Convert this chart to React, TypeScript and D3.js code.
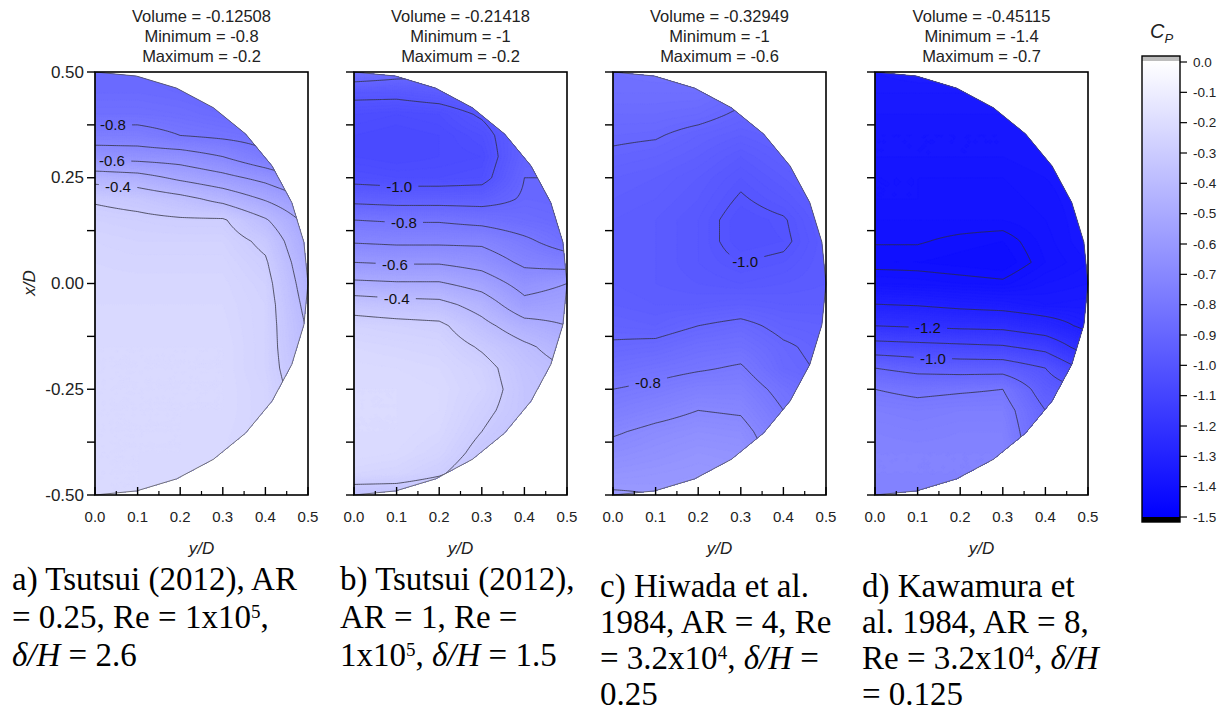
import React, { useMemo } from "react";
import * as d3 from "d3";

// Tabulation grid for the pressure coefficient: rows run along x/D (top to bottom), columns along y/D.
const ROW_XD = [0.5, 0.45, 0.4, 0.35, 0.3, 0.25, 0.2, 0.15, 0.1, 0.05, 0, -0.05, -0.1, -0.15, -0.2, -0.25, -0.3, -0.35, -0.4, -0.45, -0.5];
const COL_YD = [0, 0.1, 0.2, 0.3, 0.4, 0.5];

// a) Tsutsui (2012), AR = 0.25
const cpTsutsuiAR025 = [
  [-0.88, -0.88, -0.9, -0.9, -0.9, -0.9],
  [-0.87, -0.87, -0.88, -0.9, -0.9, -0.9],
  [-0.84, -0.84, -0.85, -0.87, -0.88, -0.88],
  [-0.76, -0.76, -0.8, -0.82, -0.84, -0.86],
  [-0.63, -0.64, -0.65, -0.7, -0.78, -0.85],
  [-0.44, -0.46, -0.52, -0.57, -0.63, -0.72],
  [-0.31, -0.33, -0.37, -0.43, -0.51, -0.6],
  [-0.27, -0.28, -0.29, -0.29, -0.39, -0.53],
  [-0.25, -0.26, -0.26, -0.26, -0.32, -0.5],
  [-0.24, -0.245, -0.245, -0.245, -0.29, -0.47],
  [-0.235, -0.235, -0.235, -0.235, -0.27, -0.45],
  [-0.23, -0.23, -0.23, -0.23, -0.26, -0.43],
  [-0.225, -0.225, -0.225, -0.225, -0.26, -0.41],
  [-0.22, -0.22, -0.22, -0.22, -0.26, -0.4],
  [-0.22, -0.22, -0.22, -0.22, -0.26, -0.38],
  [-0.22, -0.22, -0.22, -0.22, -0.25, -0.36],
  [-0.22, -0.22, -0.22, -0.22, -0.25, -0.35],
  [-0.22, -0.22, -0.22, -0.225, -0.25, -0.34],
  [-0.22, -0.22, -0.22, -0.23, -0.25, -0.33],
  [-0.22, -0.22, -0.225, -0.23, -0.25, -0.32],
  [-0.22, -0.22, -0.23, -0.23, -0.25, -0.32],
];

// b) Tsutsui (2012), AR = 1
const cpTsutsuiAR1 = [
  [-0.83, -0.86, -0.88, -0.92, -0.92, -0.92],
  [-0.98, -0.98, -0.96, -0.93, -0.92, -0.92],
  [-1.04, -1.05, -1.04, -0.99, -0.92, -0.92],
  [-1.06, -1.07, -1.06, -1.03, -0.93, -0.92],
  [-1.06, -1.07, -1.06, -1.05, -0.92, -0.92],
  [-1.03, -1.04, -1.04, -1.03, -0.9, -0.9],
  [-0.93, -0.94, -0.94, -0.94, -0.89, -0.9],
  [-0.8, -0.81, -0.81, -0.83, -0.86, -0.88],
  [-0.71, -0.72, -0.72, -0.72, -0.78, -0.85],
  [-0.6, -0.61, -0.61, -0.64, -0.72, -0.75],
  [-0.48, -0.49, -0.49, -0.54, -0.64, -0.6],
  [-0.34, -0.36, -0.37, -0.44, -0.57, -0.55],
  [-0.26, -0.27, -0.28, -0.37, -0.46, -0.5],
  [-0.23, -0.24, -0.25, -0.31, -0.38, -0.45],
  [-0.215, -0.22, -0.23, -0.27, -0.35, -0.4],
  [-0.21, -0.21, -0.22, -0.26, -0.34, -0.38],
  [-0.21, -0.21, -0.22, -0.28, -0.34, -0.38],
  [-0.21, -0.21, -0.23, -0.3, -0.36, -0.4],
  [-0.21, -0.22, -0.25, -0.33, -0.38, -0.4],
  [-0.24, -0.25, -0.29, -0.36, -0.4, -0.4],
  [-0.36, -0.36, -0.38, -0.4, -0.4, -0.4],
];

// c) Hiwada et al. 1984, AR = 4
const cpHiwadaAR4 = [
  [-0.84, -0.83, -0.83, -0.85, -0.85, -0.85],
  [-0.85, -0.85, -0.85, -0.88, -0.88, -0.87],
  [-0.87, -0.87, -0.88, -0.91, -0.9, -0.89],
  [-0.89, -0.895, -0.92, -0.94, -0.92, -0.91],
  [-0.91, -0.92, -0.94, -0.97, -0.94, -0.92],
  [-0.93, -0.94, -0.96, -0.99, -0.96, -0.93],
  [-0.94, -0.95, -0.97, -1.005, -0.98, -0.94],
  [-0.95, -0.96, -0.98, -1.02, -1.005, -0.95],
  [-0.95, -0.96, -0.98, -1.02, -1.01, -0.96],
  [-0.95, -0.96, -0.98, -1.0, -0.99, -0.96],
  [-0.95, -0.96, -0.97, -0.98, -0.97, -0.96],
  [-0.94, -0.95, -0.95, -0.94, -0.95, -0.95],
  [-0.92, -0.93, -0.9, -0.88, -0.92, -0.93],
  [-0.89, -0.88, -0.85, -0.84, -0.89, -0.92],
  [-0.85, -0.83, -0.81, -0.79, -0.88, -0.91],
  [-0.8, -0.78, -0.75, -0.75, -0.83, -0.89],
  [-0.76, -0.73, -0.7, -0.71, -0.8, -0.87],
  [-0.71, -0.68, -0.66, -0.67, -0.77, -0.85],
  [-0.67, -0.65, -0.63, -0.64, -0.75, -0.83],
  [-0.63, -0.62, -0.61, -0.62, -0.73, -0.82],
  [-0.59, -0.6, -0.6, -0.6, -0.72, -0.8],
];

// d) Kawamura et al. 1984, AR = 8
const cpKawamuraAR8 = [
  [-1.34, -1.33, -1.33, -1.35, -1.35, -1.35],
  [-1.35, -1.35, -1.35, -1.35, -1.35, -1.35],
  [-1.36, -1.36, -1.36, -1.36, -1.36, -1.36],
  [-1.37, -1.37, -1.37, -1.37, -1.36, -1.36],
  [-1.37, -1.37, -1.37, -1.37, -1.36, -1.36],
  [-1.38, -1.38, -1.38, -1.38, -1.37, -1.36],
  [-1.38, -1.38, -1.385, -1.385, -1.375, -1.36],
  [-1.39, -1.39, -1.39, -1.39, -1.38, -1.36],
  [-1.398, -1.398, -1.405, -1.41, -1.385, -1.36],
  [-1.41, -1.41, -1.415, -1.42, -1.39, -1.37],
  [-1.38, -1.385, -1.39, -1.395, -1.37, -1.36],
  [-1.298, -1.305, -1.32, -1.33, -1.35, -1.345],
  [-1.2, -1.21, -1.22, -1.225, -1.26, -1.32],
  [-1.06, -1.07, -1.08, -1.09, -1.13, -1.25],
  [-0.9, -0.93, -0.94, -0.94, -1.0, -1.13],
  [-0.8, -0.82, -0.81, -0.8, -0.95, -1.0],
  [-0.76, -0.77, -0.76, -0.76, -0.9, -0.95],
  [-0.74, -0.75, -0.74, -0.74, -0.89, -0.92],
  [-0.73, -0.73, -0.73, -0.73, -0.87, -0.9],
  [-0.73, -0.73, -0.73, -0.73, -0.84, -0.88],
  [-0.74, -0.74, -0.74, -0.74, -0.82, -0.86],
];

const cpGrids = [cpTsutsuiAR025, cpTsutsuiAR1, cpHiwadaAR4, cpKawamuraAR8];

const volumeValues = ["-0.12508", "-0.21418", "-0.32949", "-0.45115"];
const minimumValues = [-0.8, -1, -1, -1.4];
const maximumValues = [-0.2, -0.2, -0.6, -0.7];

// Labelled isolines: level, y/D where the label sits, and the x/D branch it belongs to
const contourLabelsA = [
  { level: -0.8, yd: 0.042, near: 0.37 },
  { level: -0.6, yd: 0.04, near: 0.29 },
  { level: -0.4, yd: 0.054, near: 0.24 },
];
const contourLabelsB = [
  { level: -1.0, yd: 0.106, near: 0.23 },
  { level: -0.8, yd: 0.117, near: 0.15 },
  { level: -0.6, yd: 0.096, near: 0.05 },
  { level: -0.4, yd: 0.1, near: -0.03 },
];
const contourLabelsC = [
  { level: -1.0, yd: 0.31, near: 0.05 },
  { level: -0.8, yd: 0.082, near: -0.23 },
];
const contourLabelsD = [
  { level: -1.2, yd: 0.124, near: -0.1 },
  { level: -1.0, yd: 0.136, near: -0.18 },
];
const contourLabels = [contourLabelsA, contourLabelsB, contourLabelsC, contourLabelsD];

const xdTicks = [0.5, 0.375, 0.25, 0.125, 0, -0.125, -0.25, -0.375, -0.5];
const xdTickLabels = [0.5, 0.25, 0, -0.25, -0.5];
const ydMajorTicks = [0, 0.1, 0.2, 0.3, 0.4, 0.5];
const ydMinorTicks = [0.05, 0.15, 0.25, 0.35, 0.45];
const colorbarTicks = [0, -0.1, -0.2, -0.3, -0.4, -0.5, -0.6, -0.7, -0.8, -0.9, -1.0, -1.1, -1.2, -1.3, -1.4, -1.5];

type Seg = { t: string; i?: boolean; sup?: boolean };
const captionA: Seg[][] = [
  [{ t: "a) Tsutsui (2012), AR" }],
  [{ t: "= 0.25, Re = 1x10" }, { t: "5", sup: true }, { t: "," }],
  [{ t: "δ/H", i: true }, { t: " = 2.6" }],
];
const captionB: Seg[][] = [
  [{ t: "b) Tsutsui (2012)," }],
  [{ t: "AR = 1, Re =" }],
  [{ t: "1x10" }, { t: "5", sup: true }, { t: ", " }, { t: "δ/H", i: true }, { t: " = 1.5" }],
];
const captionC: Seg[][] = [
  [{ t: "c) Hiwada et al." }],
  [{ t: "1984, AR = 4, Re" }],
  [{ t: "= 3.2x10" }, { t: "4", sup: true }, { t: ", " }, { t: "δ/H", i: true }, { t: " =" }],
  [{ t: "0.25" }],
];
const captionD: Seg[][] = [
  [{ t: "d) Kawamura et" }],
  [{ t: "al. 1984, AR = 8," }],
  [{ t: "Re = 3.2x10" }, { t: "4", sup: true }, { t: ", " }, { t: "δ/H", i: true }],
  [{ t: "= 0.125" }],
];
const captions = [captionA, captionB, captionC, captionD];

// Layout
const W = 1225;
const H = 713;
const PANEL_LEFTS = [95, 354, 613, 875];
const PANEL_TOP = 72;
const PANEL_W = 213;
const PANEL_H = 423;
const CAPTION_X = [12, 340, 600, 862];
const CAPTION_Y0 = [590, 590, 597, 597];
const CAPTION_DY = [38, 38, 36, 36];
const SANS = "'Liberation Sans', Arial, Helvetica, sans-serif";
const SERIF = "'Liberation Serif', 'Times New Roman', serif";

const cpColor = d3
  .scaleLinear<string>()
  .domain([-1.5, 0])
  .range(["#0000ff", "#ffffff"])
  .clamp(true);

// Bilinear read-out of a tabulated field
function sampleCp(grid: number[][], yd: number, xd: number) {
  const dr = ROW_XD[0] - ROW_XD[1];
  const dc = COL_YD[1] - COL_YD[0];
  const r = Math.max(0, Math.min(ROW_XD.length - 1.000001, (ROW_XD[0] - xd) / dr));
  const c = Math.max(0, Math.min(COL_YD.length - 1.000001, (yd - COL_YD[0]) / dc));
  const r0 = Math.floor(r);
  const c0 = Math.floor(c);
  const fr = r - r0;
  const fc = c - c0;
  return (
    grid[r0][c0] * (1 - fr) * (1 - fc) +
    grid[r0][c0 + 1] * (1 - fr) * fc +
    grid[r0 + 1][c0] * fr * (1 - fc) +
    grid[r0 + 1][c0 + 1] * fr * fc
  );
}

function findCrossing(grid: number[][], yd: number, level: number, near: number) {
  let best = near;
  let bestDist = Infinity;
  const n = 500;
  let px = 0.5;
  let pv = sampleCp(grid, yd, px);
  for (let s = 1; s <= n; s++) {
    const x = 0.5 - s / n;
    const v = sampleCp(grid, yd, x);
    if ((pv - level) * (v - level) <= 0 && pv !== v) {
      const xc = px + ((x - px) * (level - pv)) / (v - pv);
      if (Math.abs(xc - near) < bestDist) {
        bestDist = Math.abs(xc - near);
        best = xc;
      }
    }
    px = x;
    pv = v;
  }
  return best;
}

// Resampling lattice (extends a little past the half-disk so edge artefacts stay clipped)
const STEP = 0.005;
const FY0 = -0.02;
const FX0 = 0.52;
const NX = Math.round(0.54 / STEP) + 1;
const NY = Math.round(1.04 / STEP) + 1;

function buildPanel(k: number) {
  const grid = cpGrids[k];
  const left = PANEL_LEFTS[k];
  const sx = d3.scaleLinear().domain([0, 0.5]).range([left, left + PANEL_W]);
  const sy = d3.scaleLinear().domain([-0.5, 0.5]).range([PANEL_TOP + PANEL_H, PANEL_TOP]);

  const values: number[] = new Array(NX * NY);
  let mn = Infinity;
  let mx = -Infinity;
  for (let j = 0; j < NY; j++) {
    for (let i = 0; i < NX; i++) {
      const v = sampleCp(grid, FY0 + i * STEP, FX0 - j * STEP);
      values[j * NX + i] = v;
      if (v < mn) mn = v;
      if (v > mx) mx = v;
    }
  }

  const proj = d3.geoTransform({
    point(x: number, y: number) {
      (this as any).stream.point(sx(FY0 + (x - 0.5) * STEP), sy(FX0 - (y - 0.5) * STEP));
    },
  });
  const path = d3.geoPath(proj);

  const thr = d3.range(Math.floor(mn * 100), Math.ceil(mx * 100) + 1).map((v) => v / 100);
  const bands = d3.contours().size([NX, NY]).thresholds(thr)(values);
  const bandPaths = bands.map((b) => ({ d: path(b as any) || "", fill: cpColor(b.value + 0.005) }));

  const levels = d3
    .range(Math.round(minimumValues[k] * 10), Math.round(maximumValues[k] * 10) + 1)
    .map((v) => v / 10);
  const gen = d3.contours().size([NX, NY]);
  const linePaths = levels.map((l) => path(gen.contour(values, l) as any) || "");

  // Half-disk outline (16 chords)
  const outline = d3.range(0, 17).map((s) => {
    const a = Math.PI / 2 - (s * Math.PI) / 16;
    return [sx(0.5 * Math.cos(a)), sy(0.5 * Math.sin(a))] as [number, number];
  });
  const outlineD = "M" + outline.map((p) => p.join(",")).join("L") + "Z";

  const labels = contourLabels[k].map((lb) => {
    const xd = findCrossing(grid, lb.yd, lb.level, lb.near);
    return { x: sx(lb.yd), y: sy(xd), text: lb.level.toFixed(1) };
  });

  return { sx, sy, bandPaths, linePaths, outlineD, labels };
}

function Caption({ lines, x, y0, dy }: { lines: Seg[][]; x: number; y0: number; dy: number }) {
  return (
    <g>
      {lines.map((line, li) => {
        let raised = false;
        return (
          <text
            key={li}
            x={x}
            y={y0 + li * dy}
            fontFamily={SERIF}
            fontSize={33}
            fill="#000"
            style={{ whiteSpace: "pre" }}
          >
            {line.map((s, si) => {
              let shift = 0;
              if (s.sup && !raised) {
                shift = -10;
                raised = true;
              } else if (!s.sup && raised) {
                shift = 10;
                raised = false;
              }
              return (
                <tspan
                  key={si}
                  dy={shift || undefined}
                  fontSize={s.sup ? 19 : undefined}
                  fontStyle={s.i ? "italic" : undefined}
                >
                  {s.t}
                </tspan>
              );
            })}
          </text>
        );
      })}
    </g>
  );
}

export default function App() {
  const panels = useMemo(() => [0, 1, 2, 3].map((k) => buildPanel(k)), []);

  const cbLeft = 1142;
  const cbRight = 1180;
  const cy = d3.scaleLinear().domain([-1.5, 0]).range([517, 62]);

  return (
    <svg
      width={W}
      height={H}
      viewBox={`0 0 ${W} ${H}`}
      style={{ position: "absolute", left: 0, top: 0, background: "#fff" }}
    >
      <defs>
        {panels.map((p, k) => (
          <clipPath id={`disk-${k}`} key={`c${k}`}>
            <path d={p.outlineD} />
          </clipPath>
        ))}
        {panels.map((p, k) => (
          <mask id={`lbl-${k}`} key={`m${k}`} maskUnits="userSpaceOnUse" x={0} y={0} width={W} height={H}>
            <rect x={0} y={0} width={W} height={H} fill="#fff" />
            {p.labels.map((l, i) => (
              <rect
                key={i}
                x={l.x - l.text.length * 4.3 - 2}
                y={l.y - 7}
                width={l.text.length * 8.6 + 4}
                height={14}
                fill="#000"
              />
            ))}
          </mask>
        ))}
        <linearGradient id="cbGrad" x1="0" y1="0" x2="0" y2="1">
          <stop offset="0%" stopColor={cpColor(0)} />
          <stop offset="100%" stopColor={cpColor(-1.5)} />
        </linearGradient>
      </defs>

      {panels.map((p, k) => {
        const left = PANEL_LEFTS[k];
        const cx = left + PANEL_W / 2;
        return (
          <g key={k}>
            {/* header */}
            <g fontFamily={SANS} fontSize={16.5} fill="#222" textAnchor="middle">
              <text x={cx} y={22}>{`Volume = ${volumeValues[k]}`}</text>
              <text x={cx} y={42}>{`Minimum = ${minimumValues[k]}`}</text>
              <text x={cx} y={62}>{`Maximum = ${maximumValues[k]}`}</text>
            </g>

            {/* shaded field */}
            <g clipPath={`url(#disk-${k})`}>
              {p.bandPaths.map((b, i) => (
                <path key={i} d={b.d} fill={b.fill} stroke={b.fill} strokeWidth={0.3} />
              ))}
              <g mask={`url(#lbl-${k})`}>
                {p.linePaths.map((d, i) => (
                  <path key={i} d={d} fill="none" stroke="#2e2e3c" strokeWidth={0.9} strokeOpacity={0.85} />
                ))}
              </g>
            </g>
            <path d={p.outlineD} fill="none" stroke="#555" strokeWidth={0.8} />

            {/* isoline labels */}
            <g fontFamily={SANS} fontSize={15} fill="#111" textAnchor="middle">
              {p.labels.map((l, i) => (
                <text key={i} x={l.x} y={l.y} dominantBaseline="central">
                  {l.text}
                </text>
              ))}
            </g>

            {/* frame */}
            <rect x={left} y={PANEL_TOP} width={PANEL_W} height={PANEL_H} fill="none" stroke="#000" strokeWidth={1.6} />

            {/* left ticks (outward) */}
            {xdTicks.map((t) => (
              <line key={`yt${t}`} x1={left - 8} x2={left} y1={p.sy(t)} y2={p.sy(t)} stroke="#000" strokeWidth={1.4} />
            ))}
            {k === 0 &&
              xdTickLabels.map((t) => (
                <text
                  key={`yl${t}`}
                  x={left - 11}
                  y={p.sy(t)}
                  dominantBaseline="central"
                  textAnchor="end"
                  fontFamily={SANS}
                  fontSize={17}
                  fill="#222"
                >
                  {t.toFixed(2)}
                </text>
              ))}

            {/* bottom ticks (inward) */}
            {ydMajorTicks.map((t) => (
              <line
                key={`xt${t}`}
                x1={p.sx(t)}
                x2={p.sx(t)}
                y1={PANEL_TOP + PANEL_H}
                y2={PANEL_TOP + PANEL_H - 8}
                stroke="#000"
                strokeWidth={1.4}
              />
            ))}
            {ydMinorTicks.map((t) => (
              <line
                key={`xm${t}`}
                x1={p.sx(t)}
                x2={p.sx(t)}
                y1={PANEL_TOP + PANEL_H}
                y2={PANEL_TOP + PANEL_H - 4}
                stroke="#000"
                strokeWidth={1.2}
              />
            ))}
            {ydMajorTicks.map((t) => (
              <text
                key={`xl${t}`}
                x={p.sx(t)}
                y={522}
                textAnchor="middle"
                fontFamily={SANS}
                fontSize={15}
                fill="#222"
              >
                {t.toFixed(1)}
              </text>
            ))}
            <text x={cx} y={554} textAnchor="middle" fontFamily={SANS} fontSize={17} fontStyle="italic" fill="#222">
              y/D
            </text>

            <Caption lines={captions[k]} x={CAPTION_X[k]} y0={CAPTION_Y0[k]} dy={CAPTION_DY[k]} />
          </g>
        );
      })}

      {/* x/D axis title */}
      <text
        transform="translate(35,283) rotate(-90)"
        textAnchor="middle"
        fontFamily={SANS}
        fontSize={17}
        fontStyle="italic"
        fill="#222"
      >
        x/D
      </text>

      {/* colour bar */}
      <g>
        <rect x={cbLeft} y={56} width={cbRight - cbLeft} height={cy(0) - 56} fill="#bdbdbd" />
        <rect x={cbLeft} y={cy(0) - 1} width={cbRight - cbLeft} height={cy(-1.5) - cy(0) + 1} fill="url(#cbGrad)" />
        <rect x={cbLeft} y={cy(-1.5)} width={cbRight - cbLeft} height={522 - cy(-1.5)} fill="#000" />
        <rect x={cbLeft} y={56} width={cbRight - cbLeft} height={466} fill="none" stroke="#000" strokeWidth={1.4} />
        {colorbarTicks.map((t) => (
          <g key={t}>
            <line x1={cbRight} x2={cbRight + 7} y1={cy(t)} y2={cy(t)} stroke="#000" strokeWidth={1.2} />
            <text
              x={cbRight + 13}
              y={cy(t)}
              dominantBaseline="central"
              fontFamily={SANS}
              fontSize={13.5}
              fill="#222"
            >
              {t.toFixed(1)}
            </text>
          </g>
        ))}
        <text x={1150} y={38} fontFamily={SANS} fontSize={20} fontStyle="italic" fill="#222">
          C
          <tspan dy={5} fontSize={13}>
            P
          </tspan>
        </text>
      </g>
    </svg>
  );
}
